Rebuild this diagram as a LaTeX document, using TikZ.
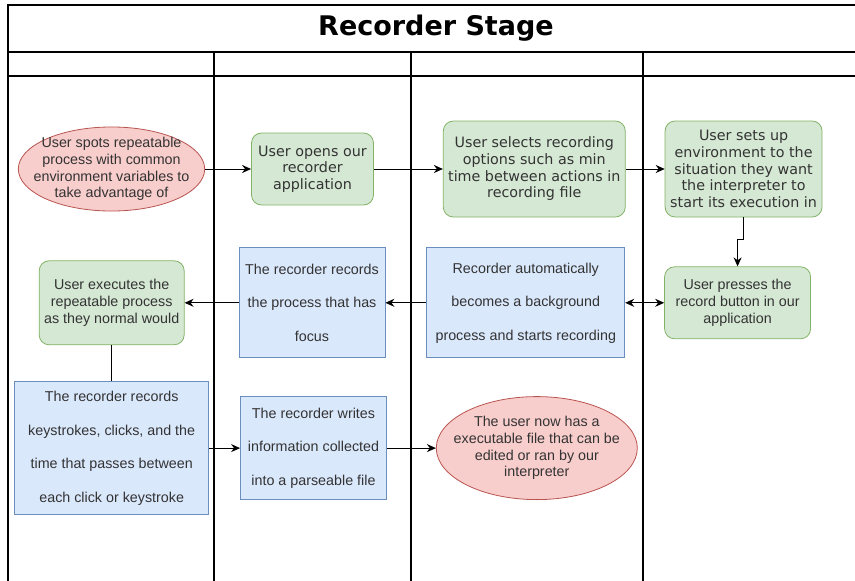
\documentclass[tikz,border=0pt]{standalone}
\usepackage{fontspec}
\usepackage{xcolor}
\usepackage{tikz}
\usetikzlibrary{arrows.meta,positioning,shapes.geometric}
\newfontfamily\verdfont{DejaVu Sans}
\newfontfamily\arialfont{Liberation Sans}
\newcommand\ttlfont{\verdfont\bfseries\fontsize{27}{32}\selectfont}
\newcommand\grnfont{\verdfont\fontsize{14.3}{16.7}\selectfont}
\newcommand\arlfont{\arialfont\fontsize{14.3}{16.7}\selectfont}
\newcommand\blufont{\arialfont\fontsize{14.3}{33.5}\selectfont}
\definecolor{taskGreen}{HTML}{D5E8D4}
\definecolor{taskGreenLine}{HTML}{82B366}
\definecolor{termRed}{HTML}{F8CECC}
\definecolor{termRedLine}{HTML}{B85450}
\definecolor{boxBlue}{HTML}{DAE8FC}
\definecolor{boxBlueLine}{HTML}{6C8EBF}
\definecolor{txtGray}{HTML}{333333}

\begin{document}
\begin{tikzpicture}[x=1pt,y=1pt,
 lane/.style={line width=1.2pt,draw=black},
 task/.style={rectangle,rounded corners=10pt,draw=taskGreenLine,fill=taskGreen,thick,
   align=center,text=txtGray,font=\grnfont,inner xsep=3pt},
 taska/.style={task,font=\arlfont},
 term/.style={ellipse,draw=termRedLine,fill=termRed,thick,align=center,text=txtGray,
   font=\arlfont,inner xsep=-12pt,inner ysep=-2pt},
 recbox/.style={rectangle,draw=boxBlueLine,fill=boxBlue,thick,align=center,text=txtGray,
   font=\blufont,inner xsep=3pt},
 arr/.style={-{Stealth[length=9pt,width=8pt]},line width=1pt,draw=black},
 link/.style={line width=1pt,draw=black}]
\useasboundingbox (0,0) rectangle (855,-581);
\draw[lane] (855,-5) -| (8,-581);
\draw[lane] (8,-52) -- (855,-52);
\draw[lane] (8,-76) -- (855,-76);
\foreach \x in {214,411,643} \draw[lane] (\x,-52) -- (\x,-581);
\node[font=\ttlfont] (title) at (436,-28) {Recorder Stage};
\node[term,minimum width=184pt,minimum height=84pt] (spot) at (111.5,-169) {User spots repeatable\\process with common\\environment variables to\\take advantage of};
\node[task,minimum width=122pt,minimum height=72pt,right=46pt of spot] (opens) {User opens our\\recorder\\application};
\node[task,minimum width=182pt,minimum height=96pt,right=69pt of opens] (options) {User selects recording\\options such as min\\time between actions in\\recording file};
\node[task,minimum width=157pt,minimum height=96pt,right=39pt of options] (setup) {User sets up\\environment to the\\situation they want\\the interpreter to\\start its execution in};
\node[taska,minimum width=146pt,minimum height=72pt,below=49pt of setup,xshift=-6pt] (press) {User presses the\\record button in our\\application};
\node[recbox,minimum width=198pt,minimum height=110pt,left=39pt of press] (becomes) {Recorder automatically\\becomes a background\\process and starts recording};
\node[recbox,minimum width=146pt,minimum height=110pt,left=41pt of becomes] (focus) {The recorder records\\the process that has\\focus};
\node[taska,minimum width=145pt,minimum height=84pt,left=54pt of focus] (executes) {User executes the\\repeatable process\\as they normal would};
\node[recbox,minimum width=194pt,minimum height=133pt,below=36pt of executes] (keys) {The recorder records\\keystrokes, clicks, and the\\time that passes between\\each click or keystroke};
\node[recbox,minimum width=146pt,minimum height=103pt,right=31pt of keys] (writes) {The recorder writes\\information collected\\into a parseable file};
\node[term,minimum width=194pt,minimum height=103pt,right=49pt of writes] (final) {The user now has a\\executable file that can be\\edited or ran by our\\interpreter};
\draw[arr] (spot) -- (opens);
\draw[arr] (opens) -- (options);
\draw[arr] (options) -- (setup);
\draw[arr] (setup.south) -- ++(0,-22pt) -| (press.north);
\draw[arr,{Stealth[length=9pt,width=8pt]}-{Stealth[length=9pt,width=8pt]}] (becomes) -- (press);
\draw[arr] (becomes) -- (focus);
\draw[arr] (focus) -- (executes);
\draw[link] (executes) -- (keys);
\draw[arr] (keys) -- (writes);
\draw[arr] (writes) -- (final);
\end{tikzpicture}
\end{document}
